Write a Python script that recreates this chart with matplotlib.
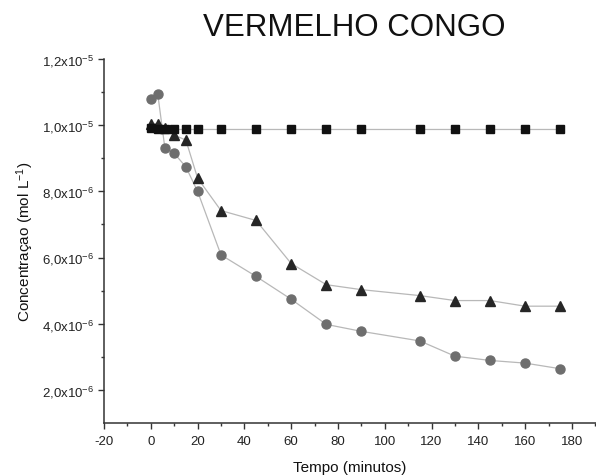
import matplotlib
matplotlib.use("Agg")
import matplotlib.pyplot as plt
from matplotlib.ticker import MultipleLocator, FixedLocator
import numpy as np

plt.rcParams['font.family'] = ['Liberation Sans', 'DejaVu Sans']
plt.rcParams['mathtext.fontset'] = 'custom'
plt.rcParams['mathtext.rm'] = 'Liberation Sans'
plt.rcParams['mathtext.it'] = 'Liberation Sans'

# data
t_sq = [0, 3, 6, 10, 15, 20, 30, 45, 60, 75, 90, 115, 130, 145, 160, 175]
c_sq = [0.990e-5, 0.989e-5, 0.988e-5, 0.987e-5, 0.987e-5, 0.987e-5, 0.987e-5, 0.987e-5,
        0.987e-5, 0.987e-5, 0.987e-5, 0.987e-5, 0.987e-5, 0.987e-5, 0.987e-5, 0.987e-5]

t_tri = [0, 3, 6, 10, 15, 20, 30, 45, 60, 75, 90, 115, 130, 145, 160, 175]
c_tri = [1.005e-5, 1.005e-5, 0.990e-5, 0.970e-5, 0.955e-5, 0.840e-5, 0.742e-5, 0.712e-5,
         0.582e-5, 0.518e-5, 0.503e-5, 0.485e-5, 0.470e-5, 0.470e-5, 0.453e-5, 0.453e-5]

t_circ = [0, 3, 6, 10, 15, 20, 30, 45, 60, 75, 90, 115, 130, 145, 160, 175]
c_circ = [1.080e-5, 1.093e-5, 0.932e-5, 0.915e-5, 0.874e-5, 0.800e-5, 0.608e-5, 0.543e-5,
          0.474e-5, 0.398e-5, 0.377e-5, 0.348e-5, 0.302e-5, 0.289e-5, 0.281e-5, 0.264e-5]

yticks = [2e-6, 4e-6, 6e-6, 8e-6, 1e-5, 1.2e-5]
yticklabels = [r'2,0x10$^{-6}$', r'4,0x10$^{-6}$', r'6,0x10$^{-6}$', r'8,0x10$^{-6}$',
               r'1,0x10$^{-5}$', r'1,2x10$^{-5}$']
xticks = [-20, 0, 20, 40, 60, 80, 100, 120, 140, 160, 180]

fig = plt.figure(figsize=(5.96, 4.77), dpi=100)
ax = fig.add_axes([104/596, 53/477, 1 - 104/596, (424-60)/477])

line_c = '#b8b8b8'
ax.plot(t_sq, c_sq, '-', color=line_c, lw=0.9, zorder=1)
ax.plot(t_tri, c_tri, '-', color=line_c, lw=0.9, zorder=1)
ax.plot(t_circ, c_circ, '-', color=line_c, lw=0.9, zorder=1)
ax.plot(t_circ, c_circ, 'o', color='#6e6e6e', ms=6.5, mec='#6e6e6e', zorder=2, ls='none')
ax.plot(t_tri, c_tri, '^', color='#262626', ms=7.5, zorder=3, ls='none')
ax.plot(t_sq, c_sq, 's', color='#111111', ms=5.5, zorder=4, ls='none')

ax.set_xlim(-20, 190.3)
ax.set_ylim(1e-6, 1.2e-5)
ax.set_xticks(xticks)
ax.set_xticklabels([str(v) for v in xticks])
ax.xaxis.set_minor_locator(MultipleLocator(10))
ax.set_yticks(yticks)
ax.set_yticklabels(yticklabels)
ax.yaxis.set_minor_locator(FixedLocator([1e-6*k for k in range(2, 13)]))

for s in ['top', 'right']:
    ax.spines[s].set_visible(False)
for s in ['left', 'bottom']:
    ax.spines[s].set_color('#333333')
    ax.spines[s].set_linewidth(1.1)

ax.tick_params(axis='both', which='major', direction='out', length=4, width=1, labelsize=9.5, colors='#333333', labelcolor='#222222')
ax.tick_params(axis='both', which='minor', direction='out', length=2.5, width=1, colors='#333333')
ax.tick_params(axis='x', pad=5)

ax.set_xlabel('Tempo (minutos)', fontsize=11, labelpad=9, color='#111111')
ax.set_ylabel(r'Concentraçao (mol L$^{-1}$)', fontsize=11, labelpad=4, color='#111111')
fig.text(354/596, 1 - 28/477, 'VERMELHO CONGO', fontsize=22.5, ha='center', va='center', color='#111111')

fig.savefig('out.png', dpi=100)
